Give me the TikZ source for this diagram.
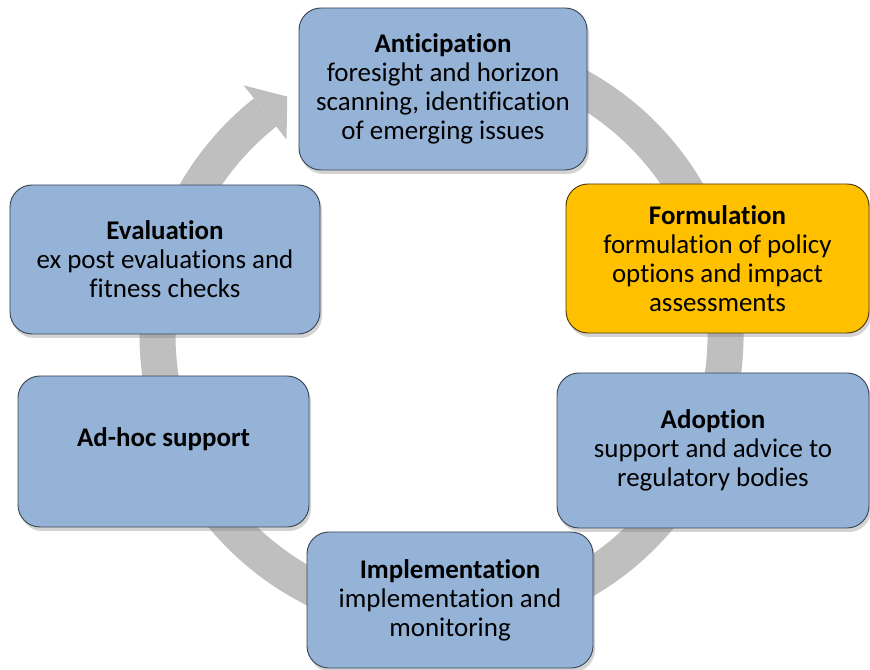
\documentclass[tikz,border=0pt]{standalone}
\usepackage{fontspec}
\setmainfont{Carlito}[Ligatures={NoCommon}]
\usepackage{tikz}
\usetikzlibrary{shadows}

\definecolor{stageblue}{HTML}{95B3D7}
\definecolor{stageyellow}{HTML}{FFC000}
\definecolor{stageline}{HTML}{3B4656}
\definecolor{ringgray}{HTML}{BFBFBF}

\tikzset{
  stage/.style = {draw = stageline, line width = 0.8pt, fill = stageblue,
    rounded corners = 0.66cm, align = center,
    font = \fontsize{23}{24.7}\selectfont,
    drop shadow = {shadow xshift = 0.06cm, shadow yshift = -0.12cm, opacity = 0.35}},
  current/.style = {fill = stageyellow, draw = black!70!stageyellow}
}

\begin{document}
\begin{tikzpicture}
\useasboundingbox (0,0) rectangle (26.1,20.1);
% the grey cycle behind the boxes
\coordinate (c) at (13.245,10.05);
\draw[ringgray, line width = 1.08cm] ([shift={(100:8.52)}]c) arc (100:-231.6:8.52);
\fill[ringgray] ([shift={(128.4:9.555)}]c) -- ([shift={(122.9:8.52)}]c) -- ([shift={(128.4:7.485)}]c) -- cycle;
% the six stages
\node[stage, minimum width = 8.64cm, minimum height = 4.86cm] (anticipation) at (13.29,17.43)
  {\textbf{Anticipation}\\ foresight and horizon\\ scanning, identification\\ of emerging issues};
\node[stage, current, minimum width = 9.09cm, minimum height = 4.47cm] (formulation) at (21.525,12.345)
  {\textbf{Formulation}\\ formulation of policy\\ options and impact\\ assessments};
\node[stage, minimum width = 9.36cm, minimum height = 4.65cm] (adoption) at (21.39,6.585)
  {\textbf{Adoption}\\ support and advice to\\ regulatory bodies};
\node[stage, minimum width = 8.58cm, minimum height = 4.08cm] (implementation) at (13.5,2.1)
  {\textbf{Implementation}\\ implementation and\\ monitoring};
\node[stage, minimum width = 8.73cm, minimum height = 4.53cm] (adhoc) at (4.905,6.555)
  {\textbf{Ad-hoc support}\\ \mbox{}};
\node[stage, minimum width = 9.3cm, minimum height = 4.47cm] (evaluation) at (4.95,12.315)
  {\textbf{Evaluation}\\ ex post evaluations and\\ fitness checks};
\end{tikzpicture}
\end{document}
